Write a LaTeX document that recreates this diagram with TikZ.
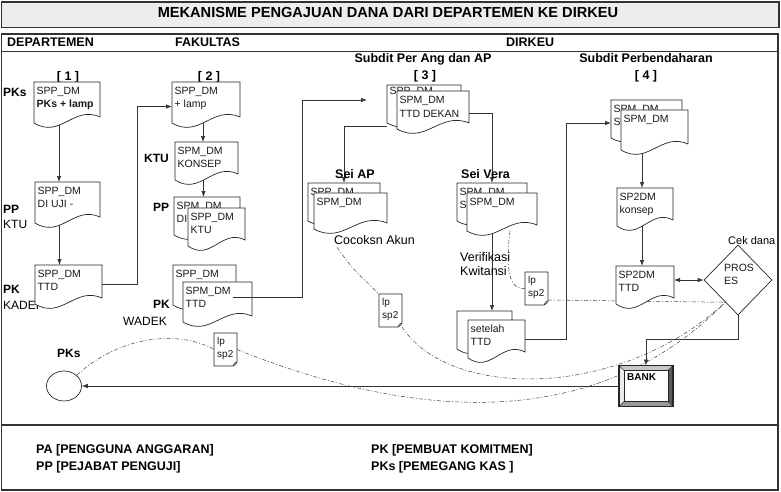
\documentclass[tikz,border=0pt]{standalone}
\usepackage{fontspec}
\setmainfont{Liberation Sans}
\usetikzlibrary{arrows.meta,shapes.geometric,calc}
\pgfdeclarelayer{bg}
\pgfsetlayers{bg,main}
\tikzset{
  docline/.style={line width=0.7pt, draw=black!85, fill=white},
  docbox/.style={shape=rectangle, inner sep=0pt, outer sep=0pt, draw=none},
  doctext/.style={anchor=north west, inner sep=0pt, align=left, font=\fontsize{10.5}{13.5}\selectfont, text=black!90},
  arr/.style={line width=0.7pt, draw=black!80, -{Latex[length=6pt,width=4.5pt]}},
  dbl/.style={line width=0.7pt, draw=black!80, {Latex[length=6pt,width=4.5pt]}-{Latex[length=6pt,width=4.5pt]}},
  dd/.style={line width=0.5pt, draw=black!75, dash pattern=on 4pt off 2pt on 1pt off 2pt},
  lbl/.style={anchor=base west, inner sep=0pt, font=\fontsize{12}{14}\selectfont\bfseries},
  lbln/.style={anchor=base west, inner sep=0pt, font=\fontsize{12}{14}\selectfont},
  txt/.style={anchor=base west, inner sep=0pt, font=\fontsize{12.5}{14}\selectfont},
  head/.style={anchor=base, inner sep=0pt, font=\fontsize{12.5}{15}\selectfont\bfseries},
  headw/.style={anchor=base west, inner sep=0pt, font=\fontsize{12.5}{15}\selectfont\bfseries},
  frame/.style={line width=1.5pt, draw=black!80},
}
\def\docoff{4.5}
\newcommand\DocShape[6]{%
  \draw[docline] (#2,#3) -- ({#2+#4},#3) -- ({#2+#4},{#3+#5-6})
    .. controls ({#2+0.6*#4},{#3+#5-18}) and ({#2+0.4*#4},{#3+#5+16}) .. (#2,{#3+#5}) -- cycle;
  \node[docbox, minimum width=#4, minimum height=#5] (#1) at ({#2+#4/2},{#3+#5/2}) {};
  \node[doctext] (#1-t) at ({#2+2.5},{#3+\docoff}) {#6};
}
\newcommand\LpDoc[3]{%
  \draw[docline] (#2,#3) -- ({#2+23},#3) -- ({#2+23},{#3+29})
    .. controls ({#2+22},{#3+31}) .. ({#2+19},{#3+33}) -- (#2,{#3+33}) -- cycle;
  \draw[line width=0.5pt, draw=black!80] ({#2+23},{#3+29}) -- ({#2+20.5},{#3+30}) -- ({#2+19},{#3+33});
  \node[docbox, minimum width=23, minimum height=33] (#1) at ({#2+11.5},{#3+16.5}) {};
  \node[doctext, font=\fontsize{10}{13}\selectfont] (#1-t) at ({#2+3},{#3+4.5}) {lp\\sp2};
}
\begin{document}
\begin{tikzpicture}[x=1pt,y=-1pt]
\useasboundingbox (0,0) rectangle (781,492);
% frames
\draw[frame, fill=black!7] (1.5,2) rectangle (779,27.5);
\node[anchor=base, inner sep=0pt, font=\fontsize{14.6}{16}\selectfont\bfseries] (title) at (388,18) {MEKANISME PENGAJUAN DANA DARI DEPARTEMEN KE DIRKEU};
\draw[frame] (1.5,34) rectangle (778,490);
\draw[line width=1.2pt, draw=black!80] (1.5,51.5) -- (778,51.5);
\draw[line width=1.2pt, draw=black!80] (1.5,425) -- (778,425);
\node[headw] (hdep) at (7,47) {DEPARTEMEN};
\node[headw] (hfak) at (175,47) {FAKULTAS};
\node[headw] (hdir) at (506,47) {DIRKEU};
% headings
\node[head] (h1) at (68,81) {[ 1 ]};
\node[head] (h2) at (209,81) {[ 2 ]};
\node[head] (s3) at (423,63) {Subdit Per Ang dan AP};
\node[head] (h3) at (425,80) {[ 3 ]};
\node[head] (s4) at (646,63) {Subdit Perbendaharan};
\node[head] (h4) at (646,80) {[ 4 ]};
% side labels
\node[lbl] (l1) at (3,97) {PKs};
\node[lbl] (l2) at (3,213) {PP};
\node[lbln] (l2b) at (3,228) {KTU};
\node[lbl] (l3) at (3,293) {PK};
\node[lbln] (l3b) at (3,309) {KADEP};
\node[lbl] (l4) at (144,162) {KTU};
\node[lbl] (l5) at (153,211) {PP};
\node[lbl] (l6) at (153,308) {PK};
\node[lbln] (l6b) at (123,325) {WADEK};
\node[headw] (seiap) at (335,178) {Sei AP};
\node[headw] (seivera) at (461,178) {Sei Vera};
\node[txt] (cocok) at (334,244) {Cocoksn Akun};
\node[anchor=north west, inner sep=0pt, align=left, font=\fontsize{12.5}{14}\selectfont] (verif) at (460,252) {Verifikasi\\Kwitansi};
\node[anchor=base west, inner sep=0pt, font=\fontsize{11}{13}\selectfont] (cek) at (728,244) {Cek dana};
\node[lbl] (lpks) at (57,357) {PKs};
% documents
\DocShape{d1}{34}{82}{66}{41}{SPP\_DM\\\textbf{PKs + lamp}}
\DocShape{d2}{35}{182}{65}{41}{SPP\_DM\\DI UJI -}
\DocShape{d3}{35}{265}{67}{39}{SPP\_DM\\TTD}
\DocShape{d4}{172}{82}{68}{41}{SPP\_DM\\+ lamp}
\DocShape{d5}{175}{142}{63}{38}{SPM\_DM\\KONSEP}
\DocShape{d6b}{174}{197}{66}{38}{SPM\_DM\\DI}
\DocShape{d6f}{188}{208}{57}{38}{SPP\_DM\\KTU}
\DocShape{d7b}{173}{265}{63}{40}{SPP\_DM}
\DocShape{d7f}{183}{282}{69}{40}{SPM\_DM\\TTD}
\def\docoff{1.5}
\DocShape{d8b}{387}{85}{74}{38}{SPP\_DM}
\def\docoff{5}
\DocShape{d8f}{397}{91}{72}{38}{SPM\_DM\\TTD DEKAN}
\def\docoff{4.5}
\DocShape{sab}{308}{183}{72}{38}{SPP\_DM}
\DocShape{saf}{314}{193}{73}{36}{SPM\_DM}
\DocShape{svb}{457}{183}{70}{38}{SPM\_DM\\S}
\DocShape{svf}{467}{193}{70}{38}{SPM\_DM}
\DocShape{stb}{457}{311}{55}{38}{}
\DocShape{stf}{468}{320}{57}{38}{setelah\\TTD}
\DocShape{d9b}{611}{100}{71}{38}{SPM\_DM\\S}
\DocShape{d9f}{621}{110}{67}{40}{SPM\_DM}
\DocShape{d10}{617}{188}{56}{38}{SP2DM\\konsep}
\DocShape{d11}{616}{266}{58}{38}{SP2DM\\TTD}
\LpDoc{lpa}{379}{294}
\LpDoc{lpb}{525}{272}
\LpDoc{lpc}{214}{333}
% circle, diamond
\node[draw=black!85, ellipse, minimum width=35, minimum height=30, inner sep=0pt, line width=0.7pt] (pks) at (64,386) {};
\node[draw=black!85, diamond, minimum width=68, minimum height=70, inner sep=0pt, line width=0.7pt] (dia) at (738,280) {};
\node[doctext] (dia-t) at (724,263.5) {PROS\\ES};
% bank
\node[docbox, minimum width=54, minimum height=41] (bank) at (646,386) {};
\fill[black!22] (bank.north west) -- (bank.north east) -- ($(bank.north east)+(-5,5)$) -- ($(bank.north west)+(5,5)$) -- cycle;
\fill[black!8] (bank.north west) -- ($(bank.north west)+(5,5)$) -- ($(bank.south west)+(5,-5)$) -- (bank.south west) -- cycle;
\fill[black!65] (bank.north east) -- (bank.south east) -- ($(bank.south east)+(-5,-5)$) -- ($(bank.north east)+(-5,5)$) -- cycle;
\fill[black!40] (bank.south west) -- (bank.south east) -- ($(bank.south east)+(-5,-5)$) -- ($(bank.south west)+(5,-5)$) -- cycle;
\draw[line width=0.5pt, draw=black!80] (bank.north west) -- +(5,5) (bank.north east) -- +(-5,5) (bank.south west) -- +(5,-5) (bank.south east) -- +(-5,-5);
\draw[line width=0.6pt, draw=black!85, fill=white] ($(bank.north west)+(5,5)$) rectangle ($(bank.south east)+(-5,-5)$);
\draw[line width=1.1pt, draw=black!85] (bank.north west) rectangle (bank.south east);
\node[anchor=base west, inner sep=0pt, font=\fontsize{10}{12}\selectfont\bfseries] (bank-t) at (627,380) {BANK};
% connectors
\coordinate (d7out) at (233,297);
\coordinate (d8in) at (367,100);
\draw[arr] (d7out) -- ++(69,0) |- (d8in);
\coordinate (dpt) at ($(dia.west)!0.63!(dia.south)$);
\begin{pgfonlayer}{bg}
\draw[arr] ([xshift=-8pt]d1.south) -- ([xshift=-8pt]d1.south |- d2.north);
\draw[arr] ([xshift=-8pt]d2.south) -- ([xshift=-8pt]d2.south |- d3.north);
\draw[arr] (d3.east) -- ++(35,0) |- ([yshift=-4pt]d4.west);
\draw[arr] ([xshift=-3pt]d4.south) -- ([xshift=-3pt]d4.south |- d5.north);
\draw[arr] ([xshift=-3pt]d5.south) -- ([xshift=-3pt]d5.south |- d6b.north);
\draw[arr] ([yshift=-3pt]d8b.south west) -| (sab.north);
\draw[arr] ([yshift=-3pt]d8f.east) -| (svb.north);
\draw[arr] (svb.north |- svf.south) -- (svb.north |- stb.north);
\draw[arr] (stf.east) -- ++(41,0) |- ([yshift=-4pt]d9b.west);
\draw[arr] ([xshift=-3pt]d10.north |- d9f.south) -- ([xshift=-3pt]d10.north);
\draw[arr] ([xshift=-3pt]d10.south) -- ([xshift=-3pt]d10.south |- d11.north);
\draw[dbl] (dia.west -| d11.east) -- (dia.west);
\draw[arr] (dia.south) -- ++(0,24) -| (bank.north);
\draw[arr] (bank.west) -- (pks.east);
% dash-dot flows
\draw[dd] ([xshift=3pt,yshift=-3pt]cocok.south west) .. controls (352,268) .. (lpa.north west);
\draw[dd] (lpa.south east) .. controls (450,400) and (620,400) .. (dpt);
\draw[dd] ([xshift=8pt]svf.south) .. controls (505,272) and (510,290) .. (lpb.west);
\draw[dd] ([yshift=5pt]lpb.south east) -- (dpt);
\draw[dd] (pks.40) .. controls (120,335) and (180,330) .. (lpc.west);
\draw[dd] (lpc.east) .. controls (400,415) and (590,440) .. (dpt);
\end{pgfonlayer}
% legend
\node[headw] (leg1) at (36,453) {PA [PENGGUNA ANGGARAN]};
\node[headw] (leg2) at (36,470) {PP [PEJABAT PENGUJI]};
\node[headw] (leg3) at (371,453) {PK [PEMBUAT KOMITMEN]};
\node[headw] (leg4) at (371,470) {PKs [PEMEGANG KAS ]};
\end{tikzpicture}
\end{document}
